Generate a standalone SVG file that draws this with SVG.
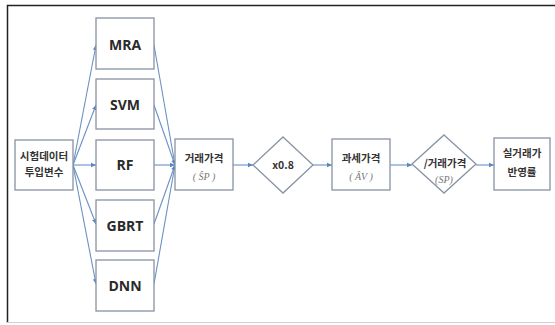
<svg xmlns="http://www.w3.org/2000/svg" width="555" height="325" viewBox="0 0 555 325">
<defs>
<marker id="ah" markerWidth="6" markerHeight="6" refX="5" refY="3" orient="auto" markerUnits="userSpaceOnUse">
<path d="M0,0.8 L5,3 L0,5.2 Z" fill="#5b86bf"/>
</marker>
</defs>
<style>
.box{fill:#fff;stroke:#8893a3;stroke-width:1.3}
.m{font-family:"Open Sans","Liberation Sans",sans-serif;font-weight:bold;font-size:14px;fill:#2a2a2a;text-anchor:middle}
.k{font-family:"Noto Sans CJK KR","Noto Sans",sans-serif;font-weight:bold;font-size:10.5px;fill:#333;text-anchor:middle}
.s{font-family:"Liberation Serif",serif;font-style:italic;font-size:10px;fill:#777;text-anchor:middle}
.c{fill:none;stroke:#6a90c4;stroke-width:1.1;marker-end:url(#ah)}
</style>
<rect x="0" y="0" width="555" height="325" fill="#fff"/>
<path d="M7.5,323 V5.5 H555" fill="none" stroke="#222" stroke-width="1.5"/>
<line x1="7" y1="322.5" x2="555" y2="322.5" stroke="#d0d0d0" stroke-width="1"/>
<g id="connectors">
<line class="c" x1="73" y1="165" x2="96" y2="45"/>
<line class="c" x1="73" y1="165" x2="96" y2="105"/>
<line class="c" x1="73" y1="165" x2="96" y2="165"/>
<line class="c" x1="73" y1="165" x2="96" y2="224"/>
<line class="c" x1="73" y1="165" x2="96" y2="284"/>
<line class="c" x1="154" y1="45" x2="175" y2="165"/>
<line class="c" x1="154" y1="105" x2="175" y2="165"/>
<line class="c" x1="154" y1="165" x2="175" y2="165"/>
<line class="c" x1="154" y1="224" x2="175" y2="165"/>
<line class="c" x1="154" y1="284" x2="175" y2="165"/>
<line class="c" x1="233" y1="165" x2="253" y2="165"/>
<line class="c" x1="313" y1="165" x2="332" y2="165"/>
<line class="c" x1="390" y1="165" x2="412" y2="165"/>
<line class="c" x1="476" y1="165" x2="494" y2="165"/>
</g>
<g id="input">
<rect class="box" x="15" y="140" width="58" height="50"/>
<text class="k" x="44" y="160">시험데이터</text>
<text class="k" x="44" y="176">투입변수</text>
</g>
<g id="mra">
<rect class="box" x="96" y="18" width="58" height="51"/>
<text class="m" x="125" y="50">MRA</text>
</g>
<g id="svm">
<rect class="box" x="96" y="79" width="58" height="50"/>
<text class="m" x="125" y="110">SVM</text>
</g>
<g id="rf">
<rect class="box" x="96" y="140" width="58" height="50"/>
<text class="m" x="125" y="170">RF</text>
</g>
<g id="gbrt">
<rect class="box" x="96" y="200" width="58" height="51"/>
<text class="m" x="125" y="231">GBRT</text>
</g>
<g id="dnn">
<rect class="box" x="96" y="260" width="58" height="51"/>
<text class="m" x="125" y="291">DNN</text>
</g>
<g id="saleprice">
<rect class="box" x="175" y="139" width="58" height="51"/>
<text class="k" x="204" y="162">거래가격</text>
<text class="s" x="204" y="180">( Ŝ<tspan>P</tspan> )</text>
</g>
<g id="mult">
<polygon class="box" points="283,137 313,165 283,193 253,165"/>
<text class="k" x="283" y="169">x0.8</text>
</g>
<g id="taxprice">
<rect class="box" x="332" y="139" width="58" height="51"/>
<text class="k" x="361" y="162">과세가격</text>
<text class="s" x="361" y="180">( ÂV )</text>
</g>
<g id="div">
<polygon class="box" points="444,135 476,164 444,193 412,164"/>
<text class="k" x="445" y="167">/거래가격</text>
<text class="s" x="444" y="183" font-size="9">(SP)</text>
</g>
<g id="ratio">
<rect class="box" x="494" y="138" width="56" height="52"/>
<text class="k" x="522" y="157">실거래가</text>
<text class="k" x="522" y="176">반영률</text>
</g>
</svg>
